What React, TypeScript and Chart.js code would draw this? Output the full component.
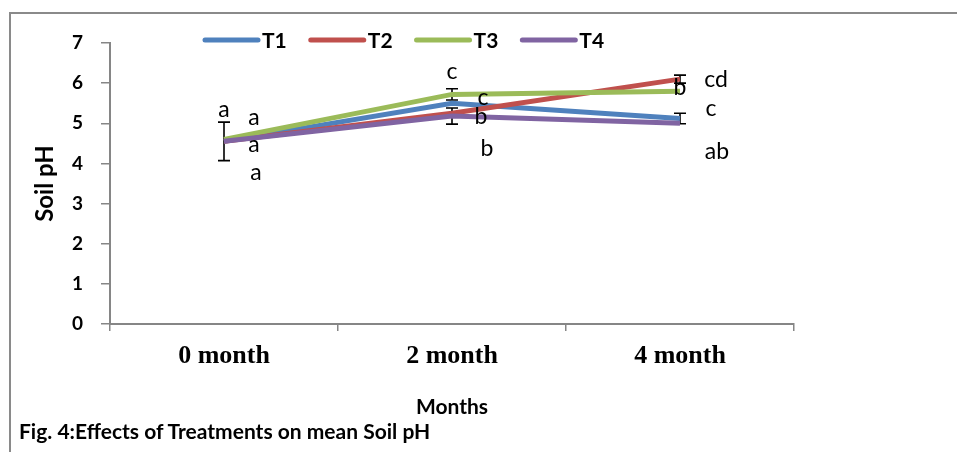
import React, { useEffect, useRef } from 'react';
import { Chart, registerables } from 'chart.js';

Chart.register(...registerables);

const categories = ['0 month', '2 month', '4 month'];
const seriesNames = ['T1', 'T2', 'T3', 'T4'];
const seriesColors = ['#4F81BD', '#C0504D', '#9BBB59', '#8064A2'];
const t1 = [4.55, 5.5, 5.12];
const t2 = [4.55, 5.25, 6.1];
const t3 = [4.6, 5.72, 5.8];
const t4 = [4.55, 5.18, 5.0];
const t1Err = [0, 0, 0.13];
const t2Err = [0, 0, 0.1];
const t3Err = [0, 0.14, 0];
const t4Err = [0.48, 0.2, 0];
const yMin = 0;
const yMax = 7;
const yStep = 1;

const letterText = ['a', 'a', 'a', 'a', 'c', 'c', 'b', 'b', 'cd', 'b', 'c', 'ab'];
const letterCat = [0, 0, 0, 0, 1, 1, 1, 1, 2, 2, 2, 2];
const letterY = [5.35, 5.13, 4.46, 3.76, 6.3, 5.65, 5.16, 4.38, 6.08, 5.9, 5.36, 4.29];
const letterDx = [0, 30, 30, 32, 0, 31, 29, 35, 36, 0, 31, 37];

const CAL = 'Lato, "Liberation Sans", sans-serif';

const errorBarPlugin = {
  id: 'errorBars',
  beforeDatasetsDraw(chart: any) {
    const ctx = chart.ctx;
    const y = chart.scales.y;
    const errs = [t1Err, t2Err, t3Err, t4Err];
    ctx.save();
    ctx.strokeStyle = '#000';
    ctx.lineWidth = 1.6;
    chart.data.datasets.forEach((ds: any, i: number) => {
      const meta = chart.getDatasetMeta(i);
      ds.data.forEach((v: number, j: number) => {
        const e = errs[i][j];
        if (!e) return;
        const x = meta.data[j].x;
        const yt = y.getPixelForValue(v + e);
        const yb = y.getPixelForValue(v - e);
        ctx.beginPath();
        ctx.moveTo(x, yt);
        ctx.lineTo(x, yb);
        ctx.moveTo(x - 6, yt);
        ctx.lineTo(x + 6, yt);
        ctx.moveTo(x - 6, yb);
        ctx.lineTo(x + 6, yb);
        ctx.stroke();
      });
    });
    ctx.restore();
  },
};

const lettersPlugin = {
  id: 'letters',
  afterDraw(chart: any) {
    const ctx = chart.ctx;
    const xs = chart.scales.x;
    const ys = chart.scales.y;
    ctx.save();
    ctx.fillStyle = '#000';
    ctx.font = '23px ' + CAL;
    ctx.textAlign = 'center';
    ctx.textBaseline = 'middle';
    letterText.forEach((t, k) => {
      const x = xs.getPixelForValue(letterCat[k]) + letterDx[k];
      const yy = ys.getPixelForValue(letterY[k]);
      ctx.fillText(t, x, yy);
    });
    ctx.restore();
  },
};

const legendPlugin = {
  id: 'customLegend',
  afterDraw(chart: any, _args: any, opts: any) {
    const ctx = chart.ctx;
    ctx.save();
    ctx.font = 'bold 21px ' + CAL;
    ctx.textBaseline = 'middle';
    ctx.textAlign = 'left';
    let x = opts.x;
    const y = opts.y;
    chart.data.datasets.forEach((ds: any) => {
      ctx.strokeStyle = ds.borderColor;
      ctx.lineWidth = 5;
      ctx.lineCap = 'round';
      ctx.beginPath();
      ctx.moveTo(x + 2, y);
      ctx.lineTo(x + opts.lineLen - 2, y);
      ctx.stroke();
      x += opts.lineLen + 2;
      ctx.fillStyle = '#000';
      ctx.fillText(ds.label, x, y + 1);
      x += ctx.measureText(ds.label).width + opts.gap;
    });
    ctx.restore();
  },
};

export default function App() {
  const ref = useRef<HTMLCanvasElement | null>(null);
  useEffect(() => {
    if (!ref.current) return;
    const series = [t1, t2, t3, t4];
    const chart = new Chart(ref.current, {
      type: 'line',
      data: {
        labels: categories,
        datasets: series.map((d, i) => ({
          label: seriesNames[i],
          data: d,
          borderColor: seriesColors[i],
          backgroundColor: seriesColors[i],
          borderWidth: 5,
          pointRadius: 0,
          tension: 0,
          order: 4 - i,
        })),
      },
      options: {
        animation: false,
        responsive: false,
        events: [],
        layout: { padding: { left: 0, top: 43, right: 163, bottom: 0 } },
        plugins: {
          legend: { display: false },
          tooltip: { enabled: false },
          customLegend: { x: 203, y: 40, lineLen: 57, gap: 22 },
        } as any,
        scales: {
          x: {
            type: 'category',
            offset: true,
            afterFit: (s: any) => { s.height = 128; },
            grid: { offset: true, drawOnChartArea: false, drawTicks: true, tickLength: 7, color: '#868686', lineWidth: 1.5 },
            border: { color: '#868686', width: 2 },
            ticks: { color: '#000', padding: 10, font: { family: '"Liberation Serif", "Times New Roman", serif', weight: 'bold', size: 26 } },
            title: { display: true, text: 'Months', color: '#000', padding: { top: 0, bottom: 32 }, font: { family: CAL, weight: 'bold', size: 21 } },
          },
          y: {
            min: yMin,
            max: yMax,
            afterFit: (s: any) => { s.width = 110; },
            grid: { drawOnChartArea: false, drawTicks: true, tickLength: 9, color: '#868686', lineWidth: 1.5 },
            border: { color: '#868686', width: 2 },
            ticks: { stepSize: yStep, color: '#000', padding: 18, font: { family: CAL, weight: 'bold', size: 19 } },
            title: { display: true, text: 'Soil pH', color: '#000', padding: { top: 31, bottom: 0 }, font: { family: CAL, weight: 'bold', size: 24 } },
          },
        },
      },
      plugins: [errorBarPlugin, lettersPlugin, legendPlugin],
    });
    return () => chart.destroy();
  }, []);

  return (
    <div style={{ position: 'fixed', left: 0, top: 0, width: 957, height: 452, overflow: 'hidden', background: '#fff' }}>
      <div style={{ position: 'absolute', left: 9, top: 12, width: 960, height: 460, borderLeft: '2px solid #8a8a8a', borderTop: '2px solid #8a8a8a', boxSizing: 'border-box' }} />
      <canvas ref={ref} width={957} height={452} style={{ position: 'absolute', left: 0, top: 0, width: 957, height: 452 }} />
      <div style={{ position: 'absolute', left: 19, top: 419, fontFamily: CAL, fontWeight: 'bold', fontSize: 21, color: '#000', whiteSpace: 'nowrap', lineHeight: '24px' }}>
        Fig. 4:Effects of Treatments on mean Soil pH
      </div>
    </div>
  );
}
